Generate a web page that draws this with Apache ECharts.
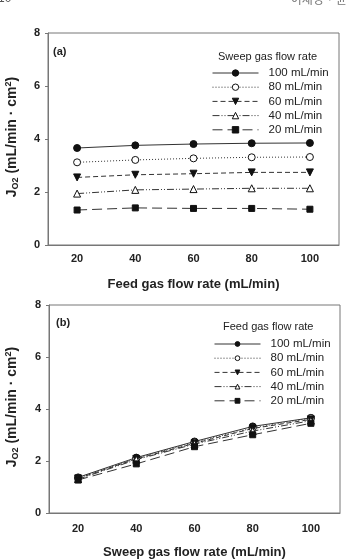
<!DOCTYPE html>
<html>
<head>
<meta charset="utf-8">
<script src="https://cdn.jsdelivr.net/npm/echarts@6/dist/echarts.min.js"></script>
<style>
    html, body { margin: 0; padding: 0; background: #fff; }
    #chart { width: 347px; height: 560px; }
</style>
</head>
<body>
<div id="chart"></div>
<script>
// flow rates on the x axis (mL/min)
const flowRates = ['20', '40', '60', '80', '100'];
const seriesNames = ['100 mL/min', '80 mL/min', '60 mL/min', '40 mL/min', '20 mL/min'];
const yTicks = [0, 2, 4, 6, 8];

// (a) JO2 vs feed gas flow rate, one line per sweep gas flow rate
const sweep100 = [3.66, 3.76, 3.81, 3.84, 3.85];
const sweep80 = [3.12, 3.21, 3.27, 3.31, 3.32];
const sweep60 = [2.55, 2.65, 2.69, 2.74, 2.74];
const sweep40 = [1.94, 2.08, 2.11, 2.14, 2.14];
const sweep20 = [1.32, 1.40, 1.38, 1.38, 1.35];

// (b) JO2 vs sweep gas flow rate, one line per feed gas flow rate
const feed100 = [1.37, 2.13, 2.75, 3.33, 3.66];
const feed80 = [1.35, 2.10, 2.72, 3.27, 3.65];
const feed60 = [1.33, 2.08, 2.68, 3.25, 3.60];
const feed40 = [1.30, 2.05, 2.65, 3.15, 3.55];
const feed20 = [1.27, 1.89, 2.55, 3.01, 3.45];

(function () {
    const myChart = echarts.init(document.getElementById('chart'));
    const font = 'Arial, "Liberation Sans", sans-serif';
    const ink = '#222';
    const frame = '#777';

    // marker + line style for each of the 5 lines
    const styles = [
        { symbol: 'circle', fill: '#111', rotate: 0, dash: 'solid' },
        { symbol: 'circle', fill: '#fff', rotate: 0, dash: [1, 2] },
        { symbol: 'triangle', fill: '#111', rotate: 180, dash: [5, 3] },
        { symbol: 'triangle', fill: '#fff', rotate: 0, dash: [7, 2, 1, 2, 1, 2] },
        { symbol: 'rect', fill: '#111', rotate: 0, dash: [10, 5] }
    ];

    function makeSeries(dataList, idx) {
        return dataList.map(function (data, i) {
            const s = styles[i];
            return {
                name: seriesNames[i],
                type: 'line',
                xAxisIndex: idx,
                yAxisIndex: idx,
                data: data,
                symbol: s.symbol,
                symbolSize: s.symbol === 'rect' ? 6 : 7,
                symbolRotate: s.rotate,
                showAllSymbol: true,
                lineStyle: { color: '#333', width: 1, type: s.dash },
                itemStyle: { color: s.fill, borderColor: '#111', borderWidth: 1 },
                emphasis: { disabled: true }
            };
        });
    }

    function xAxis(idx, name, margin) {
        return {
            type: 'category',
            gridIndex: idx,
            data: flowRates,
            boundaryGap: true,
            name: name,
            nameLocation: 'middle',
            nameGap: 33,
            nameTextStyle: { fontFamily: font, fontSize: 13, fontWeight: 'bold', color: ink },
            axisLine: { lineStyle: { color: frame } },
            axisTick: { alignWithLabel: true, length: 3, lineStyle: { color: frame } },
            axisLabel: { fontFamily: font, fontSize: 11, fontWeight: 'bold', color: ink, margin: margin }
        };
    }

    function yAxis(idx) {
        return {
            type: 'value',
            gridIndex: idx,
            min: yTicks[0],
            max: yTicks[yTicks.length - 1],
            interval: 2,
            splitLine: { show: false },
            axisLine: { show: true, lineStyle: { color: frame } },
            axisTick: { show: true, length: 3, lineStyle: { color: frame } },
            axisLabel: { fontFamily: font, fontSize: 11, fontWeight: 'bold', color: ink, margin: 8 }
        };
    }

    function legend(left, top, size) {
        return {
            orient: 'vertical',
            left: left,
            top: top,
            padding: 0,
            data: seriesNames,
            itemWidth: 46,
            itemHeight: size,
            itemGap: 0.2,
            selectedMode: false,
            lineStyle: { width: 1 },
            itemStyle: { borderWidth: 1 },
            textStyle: { fontFamily: font, fontSize: 11.5, color: ink, lineHeight: 14, padding: [0, 0, 0, 5] }
        };
    }

    const rich = {
        b: { fontFamily: font, fontSize: 14, fontWeight: 'bold', fill: ink },
        s: { fontFamily: font, fontSize: 9, fontWeight: 'bold', fill: ink, verticalAlign: 'bottom', padding: [7, 0, 0, 0] },
        u: { fontFamily: font, fontSize: 9, fontWeight: 'bold', fill: ink, verticalAlign: 'top', padding: [0, 0, 7, 0] }
    };

    function yTitle(x, y) {
        return {
            type: 'text',
            x: x,
            y: y,
            rotation: Math.PI / 2,
            style: {
                text: '{b|J}{s|O2}{b| (mL/min · cm}{u|2}{b|)}',
                rich: rich,
                align: 'center',
                verticalAlign: 'middle'
            }
        };
    }

    const option = {
        animation: false,
        backgroundColor: '#fff',
        grid: [
            { left: 48, top: 33, width: 291, height: 212, show: true, borderColor: frame, borderWidth: 1 },
            { left: 49, top: 305, width: 291, height: 210, show: true, borderColor: frame, borderWidth: 1 }
        ],
        xAxis: [
            xAxis(0, 'Feed gas flow rate (mL/min)', 8),
            xAxis(1, 'Sweep gas flow rate (mL/min)', 10)
        ],
        yAxis: [yAxis(0), yAxis(1)],
        legend: [legend(212, 66, 8), legend(214, 337, 6)],
        graphic: [
            yTitle(12, 137),
            yTitle(12, 407),
            { type: 'text', left: 53, top: 46, style: { text: '(a)', font: 'bold 11px ' + font, fill: ink } },
            { type: 'text', left: 56, top: 317, style: { text: '(b)', font: 'bold 11px ' + font, fill: ink } },
            { type: 'text', left: 218, top: 51, style: { text: 'Sweep gas flow rate', font: '11px ' + font, fill: ink } },
            { type: 'text', left: 223, top: 321, style: { text: 'Feed gas flow rate', font: '11px ' + font, fill: ink } },
            { type: 'text', left: -2, top: -7, style: { text: '10', font: '12px ' + font, fill: '#555' } },
            { type: 'text', right: 0, top: -7, style: { text: '이재영 · 윤', font: '12px "Noto Sans CJK KR"', fill: '#777' } }
        ],
        series: makeSeries([sweep100, sweep80, sweep60, sweep40, sweep20], 0)
            .concat(makeSeries([feed100, feed80, feed60, feed40, feed20], 1))
    };

    myChart.setOption(option);
    window.addEventListener('resize', function () {
        myChart.resize();
    });
})();
</script>
</body>
</html>
